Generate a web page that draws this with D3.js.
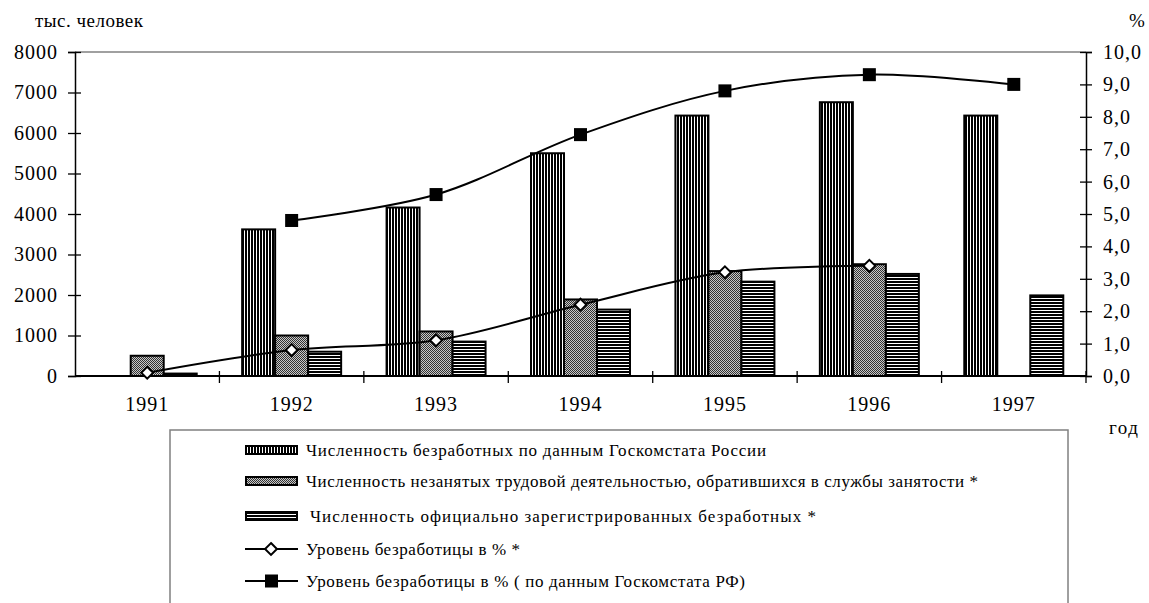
<!DOCTYPE html>
<html><head><meta charset="utf-8">
<script src="https://cdn.jsdelivr.net/npm/d3@7"></script>
</head>
<body style="margin:0"><svg id="c" width="1149" height="603"></svg>
<script>
const years = ["1991","1992","1993","1994","1995","1996","1997"];
const unemployedGks = [null, 3620, 4160, 5500, 6430, 6760, 6430];
const appliedEmployment = [500, 1000, 1100, 1890, 2590, 2760, null];
const registeredUnemployed = [60, 600, 850, 1640, 2330, 2520, 1990];
const rateApplied = [0.1, 0.8, 1.1, 2.2, 3.2, 3.4, null];
const rateGks = [null, 4.8, 5.6, 7.45, 8.8, 9.3, 9.0];
const leftTicks = [0,1000,2000,3000,4000,5000,6000,7000,8000];
const rightTicks = [0,1,2,3,4,5,6,7,8,9,10];
const legendLabels = [
  "Численность безработных по данным Госкомстата России",
  "Численность незанятых трудовой деятельностью, обратившихся в  службы занятости *",
  "Численность официально зарегистрированных безработных *",
  "Уровень безработицы в % *",
  "Уровень безработицы в % ( по данным Госкомстата РФ)"
];
const legendWidths = [460, 672, 506, 214, 439];

const svg = d3.select("#c");
const L = 75, R = 1086, T = 52, B = 376;

function serif(sel, size, ls){
  sel.attr("font-family","Liberation Serif").attr("font-size",size)
     .style("font-family","'Liberation Serif', serif").style("font-size", size+"px");
  if (ls) sel.attr("letter-spacing", ls);
  return sel;
}

const defs = svg.append("defs");
const p1 = defs.append("pattern").attr("id","pv").attr("patternUnits","userSpaceOnUse").attr("width",3).attr("height",3);
p1.append("rect").attr("width",3).attr("height",3).attr("fill","#000");
p1.append("rect").attr("x",1).attr("width",1).attr("height",3).attr("fill","#fff");
const p2 = defs.append("pattern").attr("id","pc").attr("patternUnits","userSpaceOnUse").attr("width",2).attr("height",2);
p2.append("rect").attr("width",2).attr("height",2).attr("fill","#c8c8c8");
p2.append("rect").attr("width",1).attr("height",1).attr("fill","#333");
p2.append("rect").attr("x",1).attr("y",1).attr("width",1).attr("height",1).attr("fill","#333");
const p3 = defs.append("pattern").attr("id","ph").attr("patternUnits","userSpaceOnUse").attr("width",3).attr("height",3);
p3.append("rect").attr("width",3).attr("height",3).attr("fill","#000");
p3.append("rect").attr("y",1).attr("width",3).attr("height",1).attr("fill","#fff");

const x = d3.scaleBand().domain(years).range([L, R]).padding(0);
const groupW = 99;
const xs = d3.scaleBand().domain([0,1,2]).range([(x.bandwidth()-groupW)/2,(x.bandwidth()+groupW)/2]).padding(0);
const yL = d3.scaleLinear().domain([0,8000]).range([B, T]);
const yR = d3.scaleLinear().domain([0,10]).range([B, T]);

svg.append("line").attr("x1",L).attr("x2",R).attr("y1",T).attr("y2",T).attr("stroke","#808080").attr("stroke-width",1.5);

const series = [unemployedGks, appliedEmployment, registeredUnemployed];
const fills = ["url(#pv)","url(#pc)","url(#ph)"];
series.forEach((s, si) => {
  svg.append("g").selectAll("rect").data(years.map((y,i)=>({y, v:s[i]})).filter(d=>d.v!=null))
    .join("rect")
    .attr("x", d => x(d.y) + xs(si))
    .attr("width", xs.bandwidth())
    .attr("y", d => yL(d.v))
    .attr("height", d => B - yL(d.v))
    .attr("fill", fills[si])
    .attr("stroke","#000").attr("stroke-width",2);
});

const axL = svg.append("g").attr("transform",`translate(${L},0)`)
  .call(d3.axisLeft(yL).tickValues(leftTicks).tickFormat(d3.format("d")).tickSize(7).tickPadding(10));
axL.selectAll(".tick line").attr("x1",6).attr("stroke","#000").attr("stroke-width",1.3);
axL.select(".domain").attr("stroke","#000").attr("stroke-width",1.5);
serif(axL.selectAll("text"), 20, 1).attr("fill","#000");

const axR = svg.append("g").attr("transform",`translate(${R},0)`)
  .call(d3.axisRight(yR).tickValues(rightTicks).tickFormat(d => d3.format(".1f")(d).replace(".",",")).tickSize(6).tickPadding(11));
axR.selectAll(".tick line").attr("x1",-6).attr("stroke","#000").attr("stroke-width",1.3);
axR.select(".domain").attr("stroke","#000").attr("stroke-width",1.5);
serif(axR.selectAll("text"), 20, 1).attr("fill","#000");

const axB = svg.append("g").attr("transform",`translate(0,${B})`)
  .call(d3.axisBottom(x).tickSize(0).tickPadding(21));
axB.select(".domain").attr("d",`M${L},0H${R}`).attr("stroke","#000").attr("stroke-width",2);
serif(axB.selectAll("text"), 20, 1).attr("fill","#000");
svg.append("g").selectAll("line").data(years.slice(1).concat(["end"]))
  .join("line")
  .attr("x1", d => d==="end" ? R : x(d)).attr("x2", d => d==="end" ? R : x(d))
  .attr("y1", B-5).attr("y2", B+7).attr("stroke","#000").attr("stroke-width",1.3);

const curve = d3.curveCatmullRom.alpha(0.5);
function drawLine(vals, markerType){
  const pts = years.map((y,i)=>({y, v:vals[i]})).filter(d=>d.v!=null);
  const line = d3.line().x(d => x(d.y)+x.bandwidth()/2).y(d => yR(d.v)).curve(curve);
  svg.append("path").attr("d", line(pts)).attr("fill","none").attr("stroke","#000").attr("stroke-width",2);
  const g = svg.append("g");
  if (markerType === "diamond") {
    g.selectAll("path").data(pts).join("path")
      .attr("d", d3.symbol(d3.symbolDiamond2, 90)())
      .attr("transform", d => `translate(${x(d.y)+x.bandwidth()/2},${yR(d.v)})`)
      .attr("fill","#fff").attr("stroke","#000").attr("stroke-width",2);
  } else {
    g.selectAll("rect").data(pts).join("rect")
      .attr("x", d => x(d.y)+x.bandwidth()/2-6.5).attr("y", d => yR(d.v)-6.5)
      .attr("width",13).attr("height",13).attr("fill","#000");
  }
}
drawLine(rateApplied, "diamond");
drawLine(rateGks, "square");

serif(svg.append("text").attr("x",35).attr("y",27), 19, 0.5).text("тыс. человек");
serif(svg.append("text").attr("x",1129).attr("y",27), 19).text("%");
serif(svg.append("text").attr("x",1109).attr("y",434), 19, 1.5).text("год");

svg.append("rect").attr("x",170).attr("y",430).attr("width",898).attr("height",200)
  .attr("fill","#fff").attr("stroke","#808080").attr("stroke-width",1.5);
const rowsY = [450, 481, 516, 549, 581];
const lg = svg.append("g");
[0,1,2].forEach(i => {
  lg.append("rect").attr("x",246).attr("y",rowsY[i]-4).attr("width",51).attr("height",8)
    .attr("fill",fills[i]).attr("stroke","#000").attr("stroke-width",2);
});
[3,4].forEach(i => {
  lg.append("line").attr("x1",245).attr("x2",298).attr("y1",rowsY[i]).attr("y2",rowsY[i]).attr("stroke","#000").attr("stroke-width",2);
});
lg.append("path").attr("d", d3.symbol(d3.symbolDiamond2, 90)()).attr("transform",`translate(271,${rowsY[3]})`)
  .attr("fill","#fff").attr("stroke","#000").attr("stroke-width",2);
lg.append("rect").attr("x",265).attr("y",rowsY[4]-6.5).attr("width",13).attr("height",13).attr("fill","#000");
legendLabels.forEach((t,i) => {
  serif(lg.append("text").attr("x", i===2 ? 310 : 306).attr("y",rowsY[i]+6), 17)
    .attr("textLength",legendWidths[i]).attr("lengthAdjust","spacing").text(t);
});
</script></body></html>
